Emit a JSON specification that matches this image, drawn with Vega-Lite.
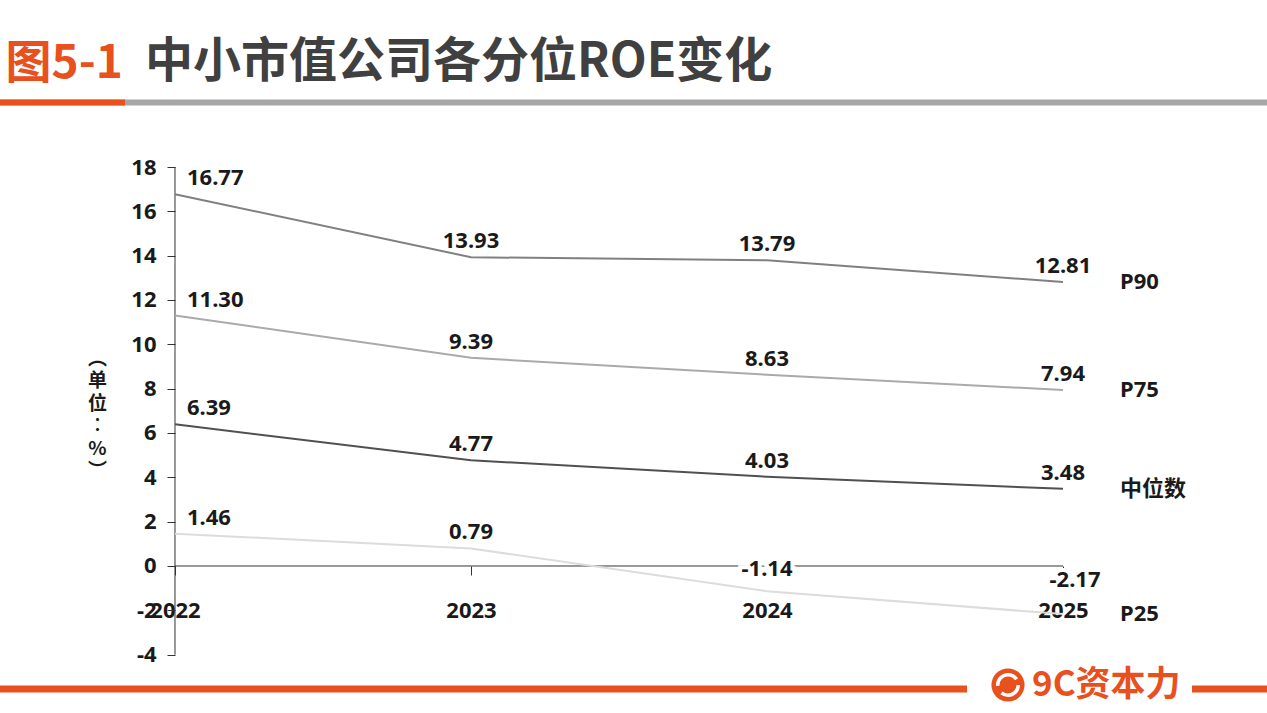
{
  "$schema": "https://vega.github.io/schema/vega-lite/v6.json",
  "width": 1267,
  "height": 713,
  "autosize": "none",
  "padding": 0,
  "background": "white",
  "config": {
    "view": {"stroke": null},
    "font": "Noto Sans, Noto Sans CJK SC"
  },
  "title": {
    "text": "中小市值公司各分位ROE变化",
    "anchor": "start",
    "frame": "group",
    "orient": "top",
    "offset": -125,
    "dx": 145,
    "baseline": "alphabetic",
    "font": "Noto Sans CJK SC",
    "fontSize": 48,
    "fontWeight": "bold",
    "color": "#404040"
  },
  "datasets": {
    "roe": [
      {"series": "P90", "year": 2022, "value": 16.77},
      {"series": "P90", "year": 2023, "value": 13.93},
      {"series": "P90", "year": 2024, "value": 13.79},
      {"series": "P90", "year": 2025, "value": 12.81},
      {"series": "P75", "year": 2022, "value": 11.30},
      {"series": "P75", "year": 2023, "value": 9.39},
      {"series": "P75", "year": 2024, "value": 8.63},
      {"series": "P75", "year": 2025, "value": 7.94},
      {"series": "中位数", "year": 2022, "value": 6.39},
      {"series": "中位数", "year": 2023, "value": 4.77},
      {"series": "中位数", "year": 2024, "value": 4.03},
      {"series": "中位数", "year": 2025, "value": 3.48},
      {"series": "P25", "year": 2022, "value": 1.46},
      {"series": "P25", "year": 2023, "value": 0.79},
      {"series": "P25", "year": 2024, "value": -1.14},
      {"series": "P25", "year": 2025, "value": -2.17}
    ]
  },
  "data": {"name": "roe"},
  "transform": [
    {"calculate": "replace(format(datum.value, '.2f'), '\u2212', '-')", "as": "label"}
  ],
  "layer": [
    {
      "data": {"values": [{}]},
      "mark": {"type": "rule", "color": "#a6a6a6", "strokeWidth": 6, "strokeCap": "butt"},
      "encoding": {
        "x": {"datum": 2021.4088, "type": "quantitative"},
        "x2": {"datum": 2025.6892},
        "y": {"datum": 20.91, "type": "quantitative"}
      }
    },
    {
      "data": {"values": [{}]},
      "mark": {"type": "rule", "color": "#e8501e", "strokeWidth": 6, "strokeCap": "butt"},
      "encoding": {
        "x": {"datum": 2021.4088, "type": "quantitative"},
        "x2": {"datum": 2021.8311},
        "y": {"datum": 20.91, "type": "quantitative"}
      }
    },
    {
      "data": {"values": [{}]},
      "mark": {"type": "rule", "color": "#e8501e", "strokeWidth": 7, "strokeCap": "butt"},
      "encoding": {
        "x": {"datum": 2021.4088, "type": "quantitative"},
        "x2": {"datum": 2024.6757},
        "y": {"datum": -5.549, "type": "quantitative"}
      }
    },
    {
      "data": {"values": [{}]},
      "mark": {"type": "rule", "color": "#e8501e", "strokeWidth": 7, "strokeCap": "butt"},
      "encoding": {
        "x": {"datum": 2025.4358, "type": "quantitative"},
        "x2": {"datum": 2025.6892},
        "y": {"datum": -5.549, "type": "quantitative"}
      }
    },
    {
      "data": {"values": [{}]},
      "mark": {"type": "point", "shape": "circle", "filled": true, "color": "#e8501e", "size": 1100, "opacity": 1},
      "encoding": {
        "x": {"datum": 2024.8142, "type": "quantitative"},
        "y": {"datum": -5.368, "type": "quantitative"}
      }
    },
    {
      "data": {"values": [{}]},
      "mark": {"type": "point", "shape": "circle", "filled": false, "stroke": "white", "strokeWidth": 3.5, "size": 420, "opacity": 1, "strokeDash": [27, 8], "strokeDashOffset": 4},
      "encoding": {
        "x": {"datum": 2024.8142, "type": "quantitative"},
        "y": {"datum": -5.368, "type": "quantitative"}
      }
    },
    {
      "data": {"values": [{}]},
      "mark": {"type": "text", "align": "left", "baseline": "middle", "font": "Noto Sans CJK SC", "fontSize": 35, "fontWeight": "bold", "color": "#e8501e"},
      "encoding": {
        "x": {"datum": 2024.8953, "type": "quantitative"},
        "y": {"datum": -5.368, "type": "quantitative"},
        "text": {"value": "9C资本力"}
      }
    },
    {
      "data": {"values": [{}]},
      "mark": {"type": "rule", "color": "#333333", "strokeWidth": 1},
      "encoding": {
        "x": {"datum": 2022, "type": "quantitative"},
        "y": {"datum": -4, "type": "quantitative"},
        "y2": {"datum": 18}
      }
    },
    {
      "data": {"values": [{}]},
      "mark": {"type": "rule", "color": "#333333", "strokeWidth": 1},
      "encoding": {
        "x": {"datum": 2022, "type": "quantitative"},
        "x2": {"datum": 2025},
        "y": {"datum": 0, "type": "quantitative"}
      }
    },
    {
      "mark": {"type": "line", "strokeWidth": 2},
      "encoding": {
        "x": {
          "field": "year",
          "type": "quantitative",
          "scale": {"domain": [2021.4088, 2025.6892], "nice": false, "zero": false},
          "axis": {
            "orient": "bottom",
            "offset": -147,
            "values": [2022, 2023, 2024, 2025],
            "format": "d",
            "domain": false,
            "grid": false,
            "ticks": true,
            "tickSize": 9,
            "tickColor": "#333333",
            "labelFont": "Noto Sans",
            "labelFontSize": 22,
            "labelFontWeight": "bold",
            "labelColor": "#1a1a1a",
            "labelPadding": 35,
            "labelBaseline": "middle",
            "labelFlush": false,
            "labelOverlap": false,
            "title": "图5-1",
            "titleX": 5,
            "titleY": -489,
            "titleAlign": "left",
            "titleBaseline": "alphabetic",
            "titleFont": "Noto Sans CJK SC",
            "titleFontSize": 46,
            "titleFontWeight": "bold",
            "titleColor": "#e8501e"
          }
        },
        "y": {
          "field": "value",
          "type": "quantitative",
          "scale": {"domain": [-6.632, 25.534], "nice": false, "zero": false},
          "axis": {
            "orient": "left",
            "offset": -175,
            "values": [-4, -2, 0, 2, 4, 6, 8, 10, 12, 14, 16, 18],
            "labelExpr": "replace(datum.label, '\u2212', '-')",
            "domain": false,
            "grid": false,
            "tickSize": 8,
            "tickColor": "#333333",
            "labelFont": "Noto Sans",
            "labelFontSize": 22,
            "labelFontWeight": "bold",
            "labelColor": "#1a1a1a",
            "labelPadding": 11,
            "labelOverlap": false,
            "labelFlush": false,
            "title": ["︵", "单", "位", "︰", "%", "︶"],
            "titleAngle": 0,
            "titleX": -78,
            "titleY": 358,
            "titleAlign": "center",
            "titleBaseline": "middle",
            "titleFont": "Noto Sans CJK SC",
            "titleFontSize": 19,
            "titleFontWeight": "bold",
            "titleLineHeight": 22.5,
            "titleColor": "#1a1a1a"
          }
        },
        "color": {
          "field": "series",
          "type": "nominal",
          "scale": {
            "domain": ["P90", "P75", "中位数", "P25"],
            "range": ["#808080", "#aaaaaa", "#505050", "#dcdcdc"]
          },
          "legend": null
        }
      }
    },
    {
      "transform": [{"filter": "datum.year == 2022"}],
      "mark": {"type": "text", "align": "left", "baseline": "middle", "dx": 12, "dy": -16, "fontSize": 22, "fontWeight": "bold", "color": "#1a1a1a"},
      "encoding": {
        "x": {"field": "year", "type": "quantitative"},
        "y": {"field": "value", "type": "quantitative"},
        "text": {"field": "label", "type": "nominal"}
      }
    },
    {
      "transform": [{"filter": "datum.year > 2022 && datum.value >= 0"}],
      "mark": {"type": "text", "align": "center", "baseline": "middle", "dy": -16, "fontSize": 22, "fontWeight": "bold", "color": "#1a1a1a"},
      "encoding": {
        "x": {"field": "year", "type": "quantitative"},
        "y": {"field": "value", "type": "quantitative"},
        "text": {"field": "label", "type": "nominal"}
      }
    },
    {
      "transform": [{"filter": "datum.year == 2024 && datum.value < 0"}],
      "mark": {"type": "text", "align": "center", "baseline": "middle", "dy": -22, "fontSize": 22, "fontWeight": "bold", "color": "white", "stroke": "white", "strokeWidth": 8},
      "encoding": {
        "x": {"field": "year", "type": "quantitative"},
        "y": {"field": "value", "type": "quantitative"},
        "text": {"field": "label", "type": "nominal"}
      }
    },
    {
      "transform": [{"filter": "datum.year == 2024 && datum.value < 0"}],
      "mark": {"type": "text", "align": "center", "baseline": "middle", "dy": -22, "fontSize": 22, "fontWeight": "bold", "color": "#1a1a1a"},
      "encoding": {
        "x": {"field": "year", "type": "quantitative"},
        "y": {"field": "value", "type": "quantitative"},
        "text": {"field": "label", "type": "nominal"}
      }
    },
    {
      "transform": [{"filter": "datum.year == 2025 && datum.value < 0"}],
      "mark": {"type": "text", "align": "center", "baseline": "middle", "dx": 12, "dy": -34, "fontSize": 22, "fontWeight": "bold", "color": "white", "stroke": "white", "strokeWidth": 8},
      "encoding": {
        "x": {"field": "year", "type": "quantitative"},
        "y": {"field": "value", "type": "quantitative"},
        "text": {"field": "label", "type": "nominal"}
      }
    },
    {
      "transform": [{"filter": "datum.year == 2025 && datum.value < 0"}],
      "mark": {"type": "text", "align": "center", "baseline": "middle", "dx": 12, "dy": -34, "fontSize": 22, "fontWeight": "bold", "color": "#1a1a1a"},
      "encoding": {
        "x": {"field": "year", "type": "quantitative"},
        "y": {"field": "value", "type": "quantitative"},
        "text": {"field": "label", "type": "nominal"}
      }
    },
    {
      "transform": [{"filter": "datum.year == 2025"}],
      "mark": {"type": "text", "align": "left", "baseline": "middle", "dx": 57, "fontSize": 22, "fontWeight": "bold", "color": "#1a1a1a"},
      "encoding": {
        "x": {"field": "year", "type": "quantitative"},
        "y": {"field": "value", "type": "quantitative"},
        "text": {"field": "series", "type": "nominal"}
      }
    }
  ]
}
